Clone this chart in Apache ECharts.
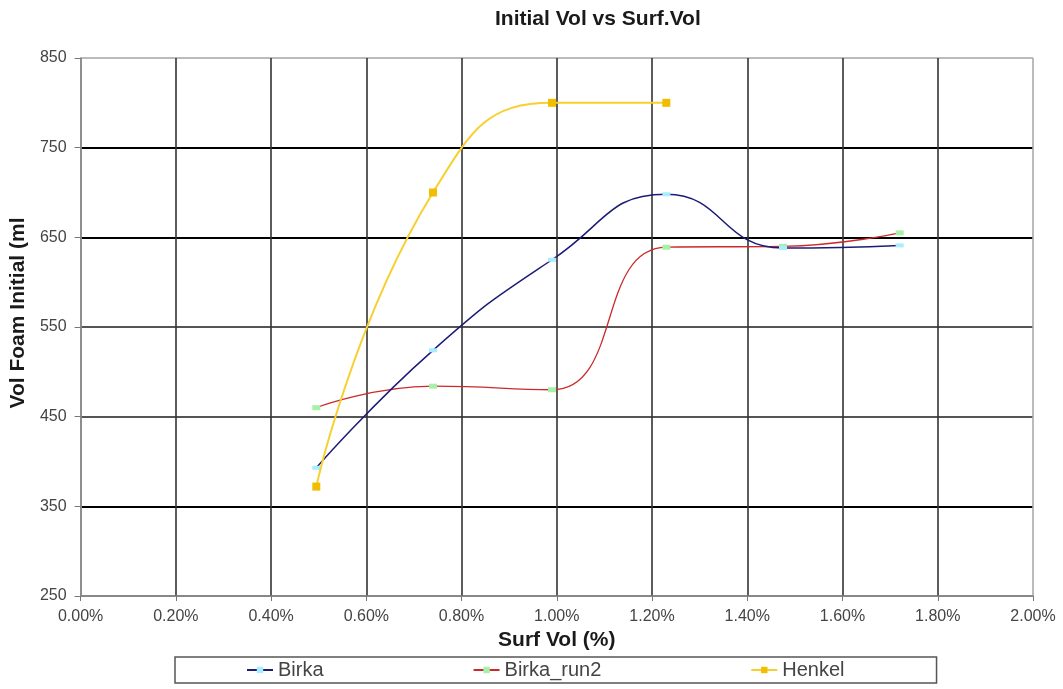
<!DOCTYPE html>
<html>
<head>
<meta charset="utf-8">
<title>Initial Vol vs Surf.Vol</title>
<script src="https://cdn.jsdelivr.net/npm/echarts@6/dist/echarts.min.js"></script>
<style>
  html, body { margin: 0; padding: 0; background: #fff; }
  #chart { width: 1063px; height: 689px; }
</style>
</head>
<body>
<div id="chart"></div>
<script>
// Surfactant volume (%) for each run
const surfVol = [0.495, 0.74, 0.99, 1.23, 1.475, 1.72];
// Initial foam volume (ml)
const birka = [393, 524, 625, 698, 638, 641];
const birkaRun2 = [460, 484, 480, 639, 640, 655];
const henkel = [372, 700, 800, 800];

const seriesNames = ['Birka', 'Birka_run2', 'Henkel'];

function pairs(xs, ys) {
  return ys.map((y, i) => [xs[i], y]);
}

const chart = echarts.init(document.getElementById('chart'), null, { renderer: 'canvas' });

const baseFont = 'Liberation Sans, Arial, sans-serif';

chart.setOption({
  animation: false,
  backgroundColor: '#ffffff',
  title: {
    text: 'Initial Vol vs Surf.Vol',
    left: 495,
    top: 9,
    padding: 0,
    textStyle: { fontFamily: baseFont, fontSize: 21, fontWeight: 'bold', color: '#1a1a1a' }
  },
  grid: { left: 79, right: 30, top: 58, bottom: 93, containLabel: false },
  legend: {
    data: seriesNames,
    left: 175,
    top: 657,
    orient: 'horizontal',
    padding: [3, 92, 3, 71],
    itemGap: 149,
    itemWidth: 26,
    itemHeight: 8,
    borderColor: '#555',
    borderWidth: 1.5,
    borderRadius: 0,
    textStyle: { fontFamily: baseFont, fontSize: 20, color: '#444' }
  },
  xAxis: {
    type: 'value',
    min: 0,
    max: 2,
    interval: 0.2,
    name: 'Surf Vol (%)',
    nameLocation: 'middle',
    nameGap: 30,
    nameTextStyle: { fontFamily: baseFont, fontSize: 21, fontWeight: 'bold', color: '#1a1a1a' },
    axisLine: { show: true, onZero: false, lineStyle: { color: '#888', width: 1.5 } },
    axisTick: { show: true, inside: false, length: 5, lineStyle: { color: '#777' } },
    axisLabel: {
      margin: 13,
      fontFamily: baseFont, fontSize: 16, color: '#444',
      formatter: v => Number(v).toFixed(2) + '%'
    },
    splitLine: {
      show: true,
      lineStyle: {
        color: ['#888', '#333', '#333', '#333', '#333', '#333', '#333', '#333', '#333', '#333', '#aaa'],
        width: 1.6
      }
    }
  },
  yAxis: {
    type: 'value',
    min: 250,
    max: 850,
    interval: 100,
    name: 'Vol Foam Initial (ml',
    nameLocation: 'middle',
    nameGap: 42,
    nameRotate: 90,
    nameTextStyle: {
      fontFamily: baseFont, fontSize: 21, fontWeight: 'bold', color: '#1a1a1a',
      padding: [0, 0, 0, 28]
    },
    axisLine: { show: true, onZero: false, lineStyle: { color: '#888', width: 1.5 } },
    axisTick: { show: true, inside: false, length: 6, lineStyle: { color: '#777' } },
    axisLabel: { margin: 14, fontFamily: baseFont, fontSize: 16, color: '#444' },
    splitLine: {
      show: true,
      lineStyle: {
        color: ['#888', '#000', '#555', '#555', '#000', '#000', '#bbb'],
        width: 1.8
      }
    }
  },
  series: [
    {
      name: seriesNames[0],
      type: 'line',
      smooth: 0.5,
      data: pairs(surfVol, birka),
      symbol: 'rect',
      symbolSize: [8, 4],
      itemStyle: { color: '#a8ecff' },
      lineStyle: { color: '#1c1c78', width: 1.5 },
      z: 3
    },
    {
      name: seriesNames[1],
      type: 'line',
      smooth: 0.5,
      data: pairs(surfVol, birkaRun2),
      symbol: 'rect',
      symbolSize: [8, 5],
      itemStyle: { color: '#a8f0a8' },
      lineStyle: { color: '#cc2a2a', width: 1.3 },
      z: 2
    },
    {
      name: seriesNames[2],
      type: 'line',
      smooth: 0.5,
      data: pairs(surfVol, henkel),
      symbol: 'rect',
      symbolSize: 8,
      itemStyle: { color: '#f2bc00' },
      lineStyle: { color: '#f7d030', width: 2 },
      z: 4
    }
  ]
});
</script>
</body>
</html>
